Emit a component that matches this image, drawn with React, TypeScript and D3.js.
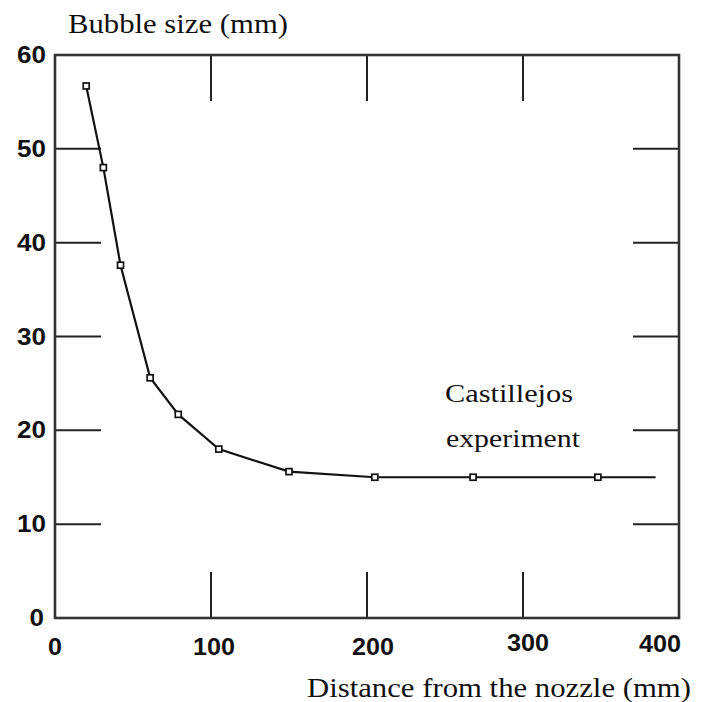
import React from "react";
import * as d3 from "d3";

// Measured bubble size along the jet (Castillejos experiment)
const distance = [20, 31, 42, 61, 79, 105, 150, 205, 268, 348];
const bubbleSize = [56.7, 48.0, 37.6, 25.6, 21.7, 18.0, 15.6, 15.0, 15.0, 15.0];
// The connecting curve runs a bit past the last measurement
const curveEnd = { x: 385, y: 15.0 };

const xTicks = [0, 100, 200, 300, 400];
const yTicks = [0, 10, 20, 30, 40, 50, 60];

const W = 709;
const H = 702;
const left = 55;
const right = 679;
const top = 55;
const bottom = 618;

const serif = "'Liberation Serif', 'Times New Roman', serif";
const sans = "'Liberation Sans', Arial, sans-serif";

// small hand-set nudges for the x tick labels
const xLabelDx: Record<number, number> = { 0: 0, 100: 3, 200: 6, 300: 5, 400: -19 };
const xLabelDy: Record<number, number> = { 0: 0, 100: 0, 200: 0, 300: -4, 400: -3 };

export default function App() {
  const x = d3.scaleLinear().domain([0, 400]).range([left, right]);
  const y = d3.scaleLinear().domain([0, 60]).range([bottom, top]);

  const pts: [number, number][] = distance.map((d, i) => [d, bubbleSize[i]]);
  const linePts: [number, number][] = [...pts, [curveEnd.x, curveEnd.y]];
  const line = d3
    .line<[number, number]>()
    .x((d) => x(d[0]))
    .y((d) => y(d[1]));

  const tickLen = 46;
  const ms = 6;

  return (
    <svg
      width={W}
      height={H}
      style={{ position: "absolute", left: 0, top: 0, background: "#fff" }}
    >
      {/* inner ticks on all four sides */}
      <g stroke="#222" strokeWidth={2}>
        {xTicks.slice(1, -1).map((t) => (
          <g key={"xt" + t}>
            <line x1={x(t)} x2={x(t)} y1={bottom} y2={bottom - tickLen} />
            <line x1={x(t)} x2={x(t)} y1={top} y2={top + tickLen} />
          </g>
        ))}
        {yTicks.slice(1, -1).map((t) => (
          <g key={"yt" + t}>
            <line x1={left} x2={left + tickLen} y1={y(t)} y2={y(t)} />
            <line x1={right} x2={right - tickLen} y1={y(t)} y2={y(t)} />
          </g>
        ))}
      </g>
      {/* frame */}
      <rect
        x={left}
        y={top}
        width={right - left}
        height={bottom - top}
        fill="none"
        stroke="#333"
        strokeWidth={2.6}
      />

      {/* data curve */}
      <path d={line(linePts) || ""} fill="none" stroke="#111" strokeWidth={2.2} />
      {pts.map((p, i) => (
        <rect
          key={"m" + i}
          x={x(p[0]) - ms / 2}
          y={y(p[1]) - ms / 2}
          width={ms}
          height={ms}
          fill="#fff"
          stroke="#111"
          strokeWidth={1.7}
        />
      ))}

      {/* y tick labels */}
      {yTicks.map((t) => (
        <text
          key={"yl" + t}
          x={t === 0 ? 44 : 46}
          y={y(t) + 8}
          textAnchor="end"
          fontFamily={sans}
          fontWeight="bold"
          fontSize={24}
          fill="#111"
          textLength={String(t).length * 14.5}
          lengthAdjust="spacingAndGlyphs"
        >
          {t}
        </text>
      ))}

      {/* x tick labels */}
      {xTicks.map((t) => (
        <text
          key={"xl" + t}
          x={x(t) + xLabelDx[t]}
          y={655 + xLabelDy[t]}
          textAnchor="middle"
          fontFamily={sans}
          fontWeight="bold"
          fontSize={24}
          fill="#111"
          textLength={String(t).length * 14}
          lengthAdjust="spacingAndGlyphs"
        >
          {t}
        </text>
      ))}

      {/* axis titles */}
      <text
        x={68}
        y={33}
        fontFamily={serif}
        fontSize={27}
        fill="#111"
        textLength={220}
        lengthAdjust="spacingAndGlyphs"
      >
        Bubble size (mm)
      </text>
      <text
        x={307}
        y={697}
        fontFamily={serif}
        fontSize={27}
        fill="#111"
        textLength={384}
        lengthAdjust="spacingAndGlyphs"
      >
        Distance from the nozzle (mm)
      </text>

      {/* annotation */}
      <text
        x={445}
        y={402}
        fontFamily={serif}
        fontSize={25}
        fill="#111"
        textLength={128}
        lengthAdjust="spacingAndGlyphs"
      >
        Castillejos
      </text>
      <text
        x={446}
        y={447}
        fontFamily={serif}
        fontSize={25}
        fill="#111"
        textLength={134}
        lengthAdjust="spacingAndGlyphs"
      >
        experiment
      </text>
    </svg>
  );
}
